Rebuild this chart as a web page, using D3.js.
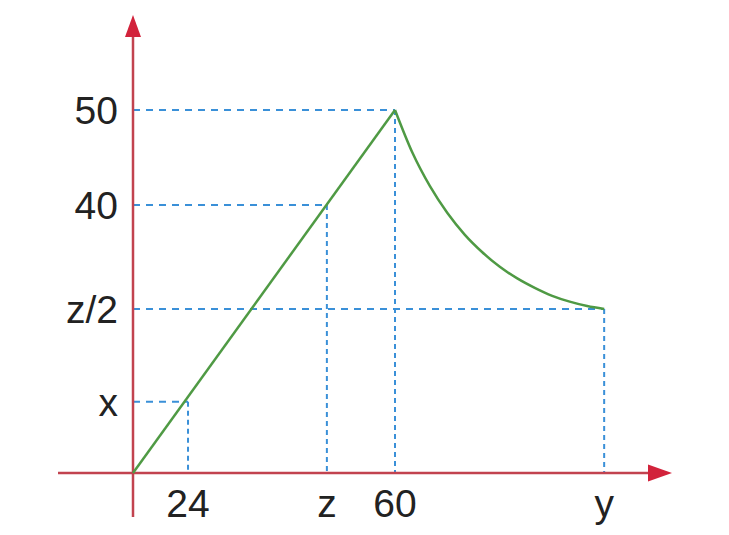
<!DOCTYPE html>
<html>
<head>
<meta charset="utf-8">
<script src="https://cdn.jsdelivr.net/npm/d3@7"></script>
<style>
  html, body { margin: 0; padding: 0; background: #ffffff; }
  svg { display: block; }
</style>
</head>
<body>
<svg id="chart" width="729" height="535"></svg>
<script>
// ---- data (schematic units; the original drawing is not to scale) ----
const xTickLabels = ["24", "z", "60", "y"];
const xTickValues = [12.6, 44.4, 60, 107.9];
const yTickLabels = ["x", "z/2", "40", "50"];
const yTickValues = [9.8, 22.6, 36.9, 50];

// rising straight segment
const riseX = [0, 60];
const riseY = [0, 50];
// decaying curve after the peak
const decayX = [60, 64, 68, 72, 76, 80, 84, 88, 92, 96, 100, 104, 107.9];
const decayY = [50, 44.1, 39.5, 35.8, 32.8, 30.4, 28.4, 26.8, 25.5, 24.4, 23.6, 23.0, 22.6];

// which x tick each y tick's guide lines meet at
const guideX = [12.6, 107.9, 44.4, 60];

// ---- layout ----
const svg = d3.select("#chart");
const x = d3.scaleLinear().domain([0, 60]).range([133, 395]);
const y = d3.scaleLinear().domain([0, 50]).range([473, 110]);

const axisColor = "#c2434f";
const arrowColor = "#d2233b";
const green = "#4f9a44";
const blue = "#3a90d8";
const font = "'Liberation Sans', Arial, sans-serif";

// guide lines
const guides = yTickValues.map((v, i) => ({ yv: v, xv: guideX[i] }));
svg.append("g").selectAll("line.h").data(guides).join("line")
  .attr("x1", x(0)).attr("x2", d => x(d.xv))
  .attr("y1", d => y(d.yv)).attr("y2", d => y(d.yv))
  .attr("stroke", blue).attr("stroke-width", 2)
  .attr("stroke-dasharray", "7,6");
svg.append("g").selectAll("line.v").data(guides).join("line")
  .attr("x1", d => x(d.xv)).attr("x2", d => x(d.xv))
  .attr("y1", d => y(d.yv)).attr("y2", y(0))
  .attr("stroke", blue).attr("stroke-width", 2)
  .attr("stroke-dasharray", "5,4");

// axes
const x0 = x(0), y0 = y(0);
svg.append("line").attr("x1", 58).attr("x2", 655).attr("y1", y0).attr("y2", y0)
  .attr("stroke", axisColor).attr("stroke-width", 2.5);
svg.append("line").attr("x1", x0).attr("x2", x0).attr("y1", 517).attr("y2", 30)
  .attr("stroke", axisColor).attr("stroke-width", 2.5);
// arrowheads
svg.append("path")
  .attr("d", `M672,${y0} L648,${y0 - 8.5} L648,${y0 + 8.5} Z`)
  .attr("fill", arrowColor);
svg.append("path")
  .attr("d", `M${x0},15 L${x0 - 8},37 L${x0 + 8},37 Z`)
  .attr("fill", arrowColor);

// curve
const line = d3.line().x(d => x(d[0])).y(d => y(d[1]));
const risePts = riseX.map((v, i) => [v, riseY[i]]);
const decayPts = decayX.map((v, i) => [v, decayY[i]]);
svg.append("path").attr("d", line(risePts))
  .attr("fill", "none").attr("stroke", green).attr("stroke-width", 2.5);
svg.append("path").attr("d", line.curve(d3.curveMonotoneX)(decayPts))
  .attr("fill", "none").attr("stroke", green).attr("stroke-width", 2.5);

// tick labels
svg.append("g").selectAll("text").data(yTickValues).join("text")
  .attr("x", 118).attr("y", d => y(d))
  .attr("dy", "0.36em")
  .attr("text-anchor", "end")
  .attr("font-family", font).attr("font-size", 39)
  .attr("fill", "#222")
  .text((d, i) => yTickLabels[i]);

svg.append("g").selectAll("text").data(xTickValues).join("text")
  .attr("x", d => x(d)).attr("y", 517)
  .attr("text-anchor", "middle")
  .attr("font-family", font).attr("font-size", 39)
  .attr("fill", "#222")
  .text((d, i) => xTickLabels[i]);
</script>
</body>
</html>
